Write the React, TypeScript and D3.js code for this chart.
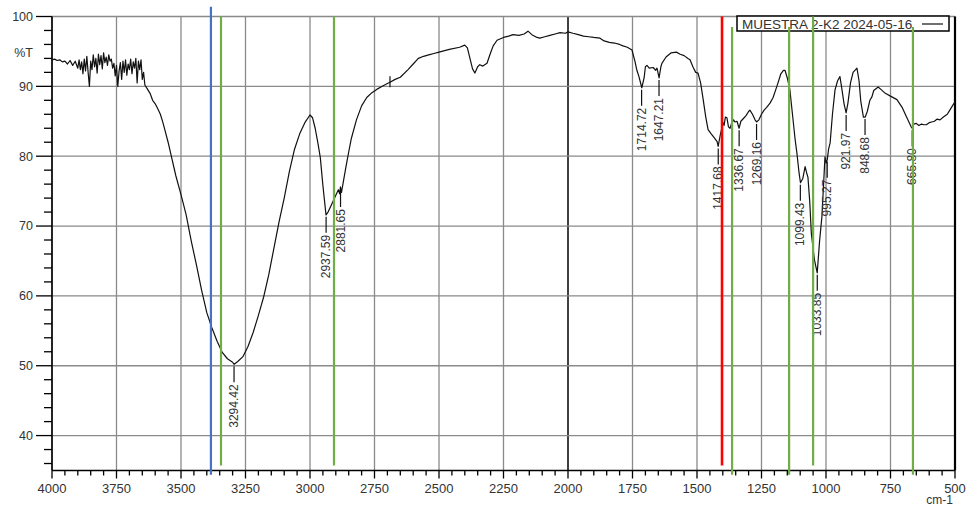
import React from "react";
import * as d3 from "d3";

const W = 967;
const H = 508;

// spectrum: [wavenumber cm-1, %T]
const spectrum: [number, number][] = [
  [4000, 93.8], [3990, 93.9], [3980, 93.7], [3970, 93.8], [3960, 93.5], [3950, 93.6], [3940, 93.2],
  [3930, 93.7], [3920, 93.0], [3910, 93.6], [3900, 92.6], [3895, 93.8], [3890, 92.4], [3885, 93.5],
  [3880, 91.8], [3875, 93.9], [3870, 92.2], [3865, 94.3], [3860, 92.0], [3855, 90.0], [3850, 93.6],
  [3845, 92.4], [3840, 94.5], [3835, 92.8], [3830, 94.0], [3825, 91.9], [3820, 94.6], [3815, 93.1],
  [3810, 94.4], [3805, 92.5], [3800, 94.8], [3795, 93.4], [3790, 94.2], [3785, 93.0], [3780, 94.5],
  [3775, 93.6], [3770, 93.9], [3765, 92.6], [3760, 93.3], [3755, 91.5], [3750, 93.0], [3745, 90.0],
  [3740, 92.2], [3735, 93.4], [3730, 91.0], [3725, 93.6], [3720, 92.0], [3715, 93.8], [3710, 91.6],
  [3705, 93.2], [3700, 92.4], [3695, 93.9], [3690, 91.8], [3685, 93.5], [3680, 92.6], [3675, 94.0],
  [3670, 90.5], [3665, 93.6], [3660, 92.4], [3655, 93.8], [3650, 91.0], [3645, 92.0], [3640, 90.2],
  [3630, 89.6], [3620, 89.0], [3610, 88.0], [3600, 87.5], [3590, 86.8], [3580, 86.0], [3570, 84.8],
  [3560, 83.4], [3550, 82.0], [3540, 80.4], [3520, 77.2], [3500, 74.5], [3480, 71.6], [3460, 67.8],
  [3440, 64.4], [3420, 60.8], [3400, 57.6], [3380, 55.4], [3360, 53.5], [3340, 51.9], [3320, 51.0],
  [3300, 50.5], [3294, 50.2], [3280, 50.6], [3260, 51.3], [3240, 52.8], [3220, 54.8], [3200, 57.2],
  [3180, 59.8], [3160, 63.0], [3140, 66.8], [3120, 70.6], [3100, 74.0], [3080, 77.8], [3060, 81.0],
  [3040, 83.2], [3020, 84.8], [3000, 85.9], [2990, 85.5], [2980, 84.0], [2970, 82.0], [2960, 79.8],
  [2950, 75.8], [2938, 71.6], [2930, 72.0], [2920, 72.8], [2910, 73.6], [2900, 74.4], [2890, 75.2],
  [2885, 74.6], [2882, 75.6], [2878, 74.8], [2870, 76.5], [2860, 78.6], [2850, 80.6], [2840, 82.5],
  [2820, 85.2], [2800, 87.2], [2780, 88.4], [2760, 89.1], [2740, 89.6], [2720, 90.0], [2700, 90.4],
  [2690, 90.6], [2670, 91.0], [2650, 91.3], [2620, 92.4], [2600, 93.2], [2580, 94.0], [2560, 94.3],
  [2540, 94.5], [2520, 94.7], [2500, 94.9], [2460, 95.3], [2420, 95.6], [2400, 95.9], [2390, 95.5],
  [2380, 94.0], [2370, 92.5], [2361, 91.9], [2350, 92.8], [2342, 93.1], [2330, 92.9], [2314, 93.3],
  [2300, 94.8], [2290, 95.8], [2275, 96.6], [2250, 97.0], [2230, 97.2], [2213, 97.4], [2190, 97.3],
  [2170, 97.5], [2155, 97.9], [2140, 97.4], [2120, 97.0], [2109, 96.9], [2090, 97.1], [2070, 97.3],
  [2050, 97.5], [2031, 97.7], [2010, 97.6], [2000, 97.8], [1981, 97.6], [1960, 97.4], [1940, 97.2],
  [1920, 97.1], [1900, 97.0], [1876, 96.9], [1860, 96.5], [1840, 96.3], [1820, 96.2], [1800, 96.0],
  [1787, 95.8], [1770, 95.6], [1752, 95.2], [1740, 93.5], [1733, 92.3], [1725, 91.4], [1714, 89.8],
  [1705, 91.2], [1700, 92.8], [1694, 93.0], [1685, 92.6], [1670, 92.7], [1660, 92.3], [1655, 92.6],
  [1647, 91.2], [1640, 92.8], [1636, 93.3], [1620, 94.2], [1600, 94.8], [1580, 94.9], [1565, 94.6],
  [1550, 94.4], [1535, 94.0], [1527, 93.8], [1516, 92.8], [1505, 92.0], [1496, 91.9], [1486, 90.5],
  [1476, 88.1], [1466, 85.6], [1457, 83.8], [1445, 83.2], [1432, 82.6], [1422, 82.1], [1418, 81.4],
  [1410, 83.0], [1405, 83.8], [1399, 84.8], [1395, 84.4], [1390, 85.6], [1384, 85.5], [1378, 84.2],
  [1372, 84.0], [1365, 84.8], [1358, 85.2], [1353, 84.9], [1345, 85.0], [1337, 84.0], [1330, 85.0],
  [1320, 85.4], [1310, 85.8], [1300, 86.4], [1295, 86.6], [1285, 86.0], [1275, 85.2], [1269, 84.9],
  [1260, 85.2], [1250, 86.0], [1240, 86.6], [1230, 87.0], [1217, 87.6], [1205, 88.4], [1195, 89.5],
  [1186, 90.5], [1175, 91.8], [1165, 92.3], [1159, 92.3], [1150, 91.2], [1140, 89.5], [1130, 86.0],
  [1120, 82.5], [1113, 80.5], [1105, 77.8], [1099, 76.2], [1090, 76.8], [1081, 78.5], [1075, 77.6],
  [1070, 77.0], [1063, 73.5], [1057, 69.0], [1045, 65.2], [1034, 63.3], [1025, 67.8], [1016, 71.3],
  [1010, 75.5], [1004, 79.9], [999, 79.0], [995, 79.5], [990, 81.0], [984, 81.9], [975, 86.0],
  [965, 89.5], [955, 90.8], [946, 91.4], [940, 90.0], [930, 87.5], [922, 86.2], [915, 87.6],
  [905, 90.5], [895, 92.0], [880, 92.6], [872, 90.8], [865, 87.8], [855, 85.6], [848, 85.6],
  [840, 86.4], [830, 88.0], [822, 88.5], [815, 89.4], [805, 89.7], [798, 89.9], [785, 89.5],
  [770, 89.0], [750, 88.6], [725, 88.1], [705, 87.0], [690, 85.8], [680, 85.0], [670, 84.2],
  [666, 84.0], [660, 84.6], [650, 84.7], [640, 84.4], [630, 84.6], [620, 84.5], [611, 84.5],
  [600, 84.8], [590, 84.9], [580, 85.0], [570, 85.3], [558, 85.2], [545, 85.6], [530, 86.0],
  [520, 86.6], [510, 87.2], [500, 87.8],
];

// labelled peaks: wavenumber and %T at the peak
const peakWavenumbers = [3294.42, 2937.59, 2881.65, 1714.72, 1647.21, 1417.68, 1336.67, 1269.16, 1099.43, 1033.85, 995.27, 921.97, 848.68, 665.8];
const peakValues = [50.2, 71.6, 75.3, 89.8, 91.2, 81.4, 84.0, 84.9, 76.2, 63.3, 79.5, 86.2, 85.6, 84.0];
const unlabelledMarks: [number, number][] = [[2690, 90.6]];

// vertical reference lines: wavenumber, colour key, top %T, bottom %T
const refWavenumbers = [3384, 3345, 2907, 1403, 1364, 1143, 1050, 663];
const refKinds = ["blue", "green", "green", "red", "green", "green", "green", "green"];
const refTop = [101.4, 100, 100, 100, 98.5, 98.5, 100, 98.5];
const refBottom = [34.4, 35.7, 35.7, 35.7, 34.4, 34.4, 35.7, 34.4];

const xTicksMajor = [4000, 3750, 3500, 3250, 3000, 2750, 2500, 2250, 2000, 1750, 1500, 1250, 1000, 750, 500];
const yTicksMajor = [100, 90, 80, 70, 60, 50, 40];
const legendLabel = "MUESTRA 2-K2 2024-05-16";

const colors: Record<string, string> = { blue: "#4472c4", green: "#70ad47", red: "#ff0000" };
const FONT = "'Liberation Sans', Arial, sans-serif";

export default function App() {
  const x = d3.scaleLinear().domain([4000, 500]).range([52, 955]);
  const y = d3.scaleLinear().domain([35, 100]).range([470.5, 16.5]);
  const line = d3.line<[number, number]>().x((d) => x(d[0])).y((d) => y(d[1]));
  const xMinor = d3.range(4000, 499, -50);
  const yMinor = d3.range(36, 101, 2);
  const x0 = x.range()[0], x1 = x.range()[1];
  const yb = y(35), yt = y(100);

  return (
    <svg width={W} height={H} style={{ position: "absolute", left: 0, top: 0, background: "#fff" }} fontFamily={FONT}>
      <rect width={W} height={H} fill="#fff" />
      {/* grid */}
      {xTicksMajor.map((v) => (
        <line key={"gx" + v} x1={x(v)} x2={x(v)} y1={yt} y2={yb} stroke={v === 2000 ? "#000" : "#8a8a8a"} strokeWidth={v === 2000 ? 1.5 : 1.3} />
      ))}
      {yTicksMajor.map((v) => (
        <line key={"gy" + v} x1={x0} x2={x1} y1={y(v)} y2={y(v)} stroke="#8a8a8a" strokeWidth={1.3} />
      ))}
      {/* axes */}
      <line x1={x0} x2={x0} y1={yt} y2={yb} stroke="#000" strokeWidth={1.6} />
      <line x1={x0} x2={x1} y1={yb} y2={yb} stroke="#000" strokeWidth={1.6} />
      <line x1={x1} x2={x1} y1={yt} y2={yb} stroke="#000" strokeWidth={2.2} />
      {yMinor.map((v) => (
        <line key={"ym" + v} x1={x0} x2={x0 - (v % 10 === 0 ? 16 : 8)} y1={y(v)} y2={y(v)} stroke="#000" strokeWidth={1.3} />
      ))}
      {xMinor.map((v) => (
        <line key={"xm" + v} x1={x(v)} x2={x(v)} y1={yb} y2={yb + (v % 250 === 0 ? 8 : 5)} stroke="#000" strokeWidth={1.3} />
      ))}
      {yTicksMajor.map((v) => (
        <text key={"yl" + v} x={33} y={y(v)} dy="0.35em" textAnchor="end" fontSize={12.5} fill="#333">{v}</text>
      ))}
      <text x={33} y={53} dy="0.35em" textAnchor="end" fontSize={12.5} fill="#333">%T</text>
      {xTicksMajor.map((v) => (
        <text key={"xl" + v} x={x(v)} y={493} textAnchor="middle" fontSize={13} fill="#333">{v}</text>
      ))}
      <text x={953} y={504} textAnchor="end" fontSize={12} fill="#333">cm-1</text>

      {/* spectrum */}
      <path d={line(spectrum) || ""} fill="none" stroke="#111" strokeWidth={1.2} strokeLinejoin="round" />

      {/* peak labels */}
      {peakWavenumbers.map((wn, i) => {
        const px = x(wn);
        const py = y(peakValues[i]);
        const t0 = py + 2;
        const t1 = py + 18;
        return (
          <g key={"pk" + wn}>
            <line x1={px} x2={px} y1={t0} y2={t1} stroke="#111" strokeWidth={1.2} />
            <text transform={`translate(${px + 4},${t1 + 2}) rotate(-90)`} textAnchor="end" fontSize={12} fill="#333">
              {wn.toFixed(2)}
            </text>
          </g>
        );
      })}
      {unlabelledMarks.map(([wn, t]) => (
        <line key={"um" + wn} x1={x(wn)} x2={x(wn)} y1={y(t) - 6} y2={y(t) + 5} stroke="#111" strokeWidth={1.2} />
      ))}

      {/* legend */}
      <rect x={737} y={16} width={212} height={15} fill="#fff" stroke="#000" strokeWidth={1.5} />
      <text x={742} y={28.5} fontSize={13.5} fill="#333">{legendLabel}</text>
      <line x1={922} x2={943} y1={24} y2={24} stroke="#111" strokeWidth={1.2} />

      {/* reference lines */}
      {refWavenumbers.map((wn, i) => (
        <line key={"ref" + i} x1={x(wn)} x2={x(wn)} y1={y(refTop[i])} y2={y(refBottom[i])} stroke={colors[refKinds[i]]} strokeWidth={refKinds[i] === "red" ? 2.6 : 2.2} />
      ))}
    </svg>
  );
}
